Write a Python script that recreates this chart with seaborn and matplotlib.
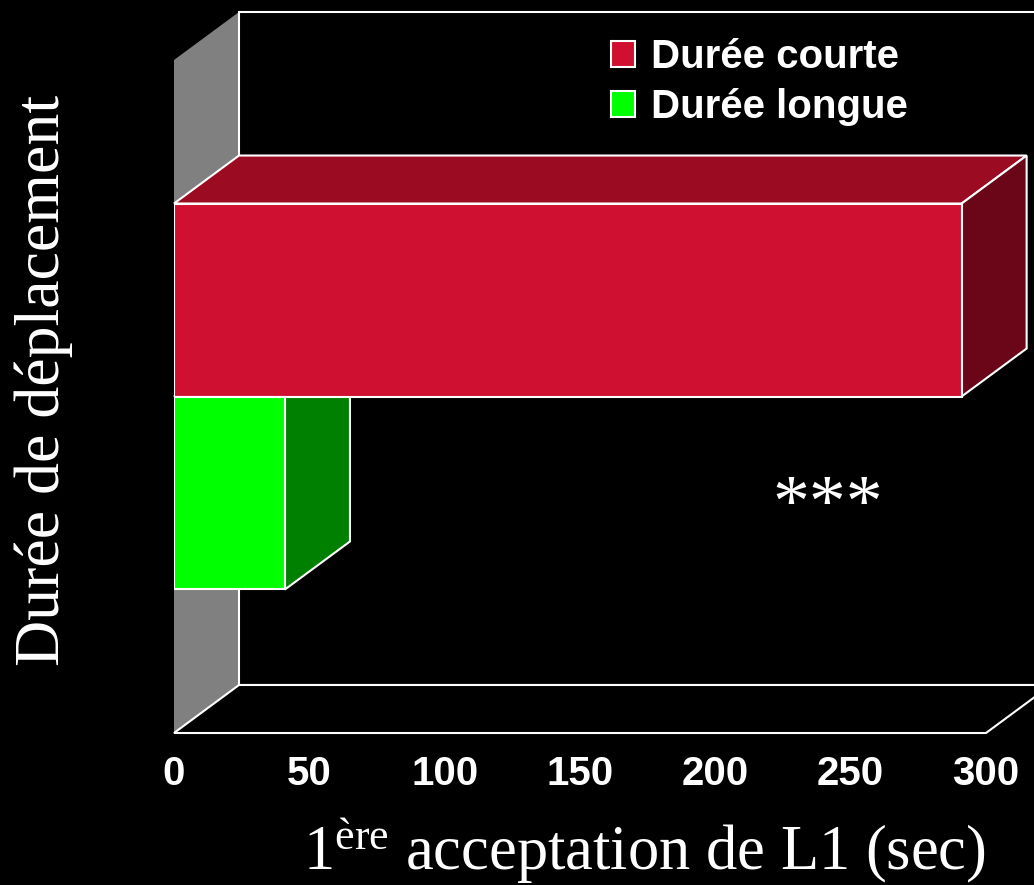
import matplotlib
matplotlib.use("Agg")
import matplotlib.pyplot as plt
import seaborn as sns
import pandas as pd
from matplotlib.patches import Polygon, Rectangle, Patch

# ---- data ----
groups = ["Durée courte", "Durée longue"]
values = [291, 41]
xticks = [0, 50, 100, 150, 200, 250, 300]
front_colors = ["#CF1030", "#00FF00"]
top_colors = ["#9B0B22", "#00B000"]
side_colors = ["#6A0618", "#008000"]
ylabel_text = "Durée de déplacement"
xlabel_text = r"1$^{\mathrm{ère}}$ acceptation de L1 (sec)"
signif = "***"

df = pd.DataFrame({"cat": ["", ""], "group": groups, "value": values})

sns.set_theme(style="dark", rc={
    "figure.facecolor": "black", "axes.facecolor": "black",
    "savefig.facecolor": "black", "text.color": "white",
    "axes.labelcolor": "white", "xtick.color": "white", "ytick.color": "white",
})
plt.rcParams["font.family"] = ["Liberation Sans", "DejaVu Sans"]
plt.rcParams["mathtext.fontset"] = "custom"
plt.rcParams["mathtext.rm"] = "Liberation Serif"
plt.rcParams["mathtext.it"] = "Liberation Serif:italic"
plt.rcParams["mathtext.bf"] = "Liberation Serif:bold"

W, H = 1034, 885
fig = plt.figure(figsize=(W / 100, H / 100), dpi=100)
ax = fig.add_axes([174 / W, (H - 733) / H, (986 - 174) / W, (733 - 60) / H])

sns.barplot(data=df, x="value", y="cat", hue="group", hue_order=groups,
            palette=front_colors, orient="h", errorbar=None, saturation=1,
            edgecolor="white", linewidth=1.5, width=0.8, legend=False, ax=ax)
bars = list(ax.patches)

ax.set_xlim(0, 300)
ax.set_ylim(0.6975, -0.6975)
ax.set_xticks(xticks)
ax.set_xticklabels([str(t) for t in xticks], fontweight="bold", fontsize=29, color="white")
ax.tick_params(axis="x", length=0, pad=16)
ax.set_yticks([])
ax.grid(False)
for s in ax.spines.values():
    s.set_visible(False)

# depth offset (in pixels) converted to data units
p0 = ax.transData.transform((0, 0))
DX, DY = ax.transData.inverted().transform(p0 + [65, 48])
xmin, xmax = ax.get_xlim()
ybot, ytop = ax.get_ylim()

ax.add_patch(Polygon([(xmin, ytop), (xmin + DX, ytop + DY), (xmin + DX, ybot + DY), (xmin, ybot)],
                     closed=True, fc="#808080", ec="none", zorder=0.5, clip_on=False))
ax.add_patch(Rectangle((xmin + DX, ytop + DY), xmax - xmin, ybot - ytop,
                       fc="black", ec="white", lw=1.5, zorder=0.6, clip_on=False))
ax.add_patch(Polygon([(xmin, ybot), (xmax, ybot), (xmax + DX, ybot + DY), (xmin + DX, ybot + DY)],
                     closed=True, fc="black", ec="white", lw=1.5, zorder=0.7, clip_on=False))

for i, p in enumerate(bars):
    x0 = p.get_x()
    x1 = x0 + p.get_width()
    ya, yb_ = p.get_y(), p.get_y() + p.get_height()
    yt, yb = min(ya, yb_), max(ya, yb_)
    p.set_zorder(3)
    ax.add_patch(Polygon([(x0, yt), (x1, yt), (x1 + DX, yt + DY), (x0 + DX, yt + DY)],
                         closed=True, fc=top_colors[i], ec="white", lw=1.5, zorder=2, clip_on=False))
    ax.add_patch(Polygon([(x1, yt), (x1, yb), (x1 + DX, yb + DY), (x1 + DX, yt + DY)],
                         closed=True, fc=side_colors[i], ec="white", lw=1.5, zorder=2, clip_on=False))

ax.set_ylabel(ylabel_text, fontfamily="Liberation Serif", fontsize=46, color="white")
ax.yaxis.set_label_coords(-0.1244, 0.5245)
ax.set_xlabel(xlabel_text, fontfamily="Liberation Serif", fontsize=45, color="white")
ax.xaxis.set_label_coords(0.579, -0.1233)

ax.text(241.6, 0.269, signif, fontfamily="Liberation Serif", fontsize=53,
        ha="center", va="baseline", color="white", zorder=5)

handles = [Patch(fc=c, ec="white", lw=1.5) for c in front_colors]
leg = fig.legend(handles, groups, loc="upper left", bbox_to_anchor=(611 / W, 1 - 38 / H),
                 frameon=False, prop={"weight": "bold", "size": 29},
                 handlelength=0.6, handleheight=0.6, handletextpad=0.4,
                 labelspacing=0.3, borderpad=0, borderaxespad=0)
for t in leg.get_texts():
    t.set_color("white")

fig.savefig("out.png", dpi=100, facecolor="black")
